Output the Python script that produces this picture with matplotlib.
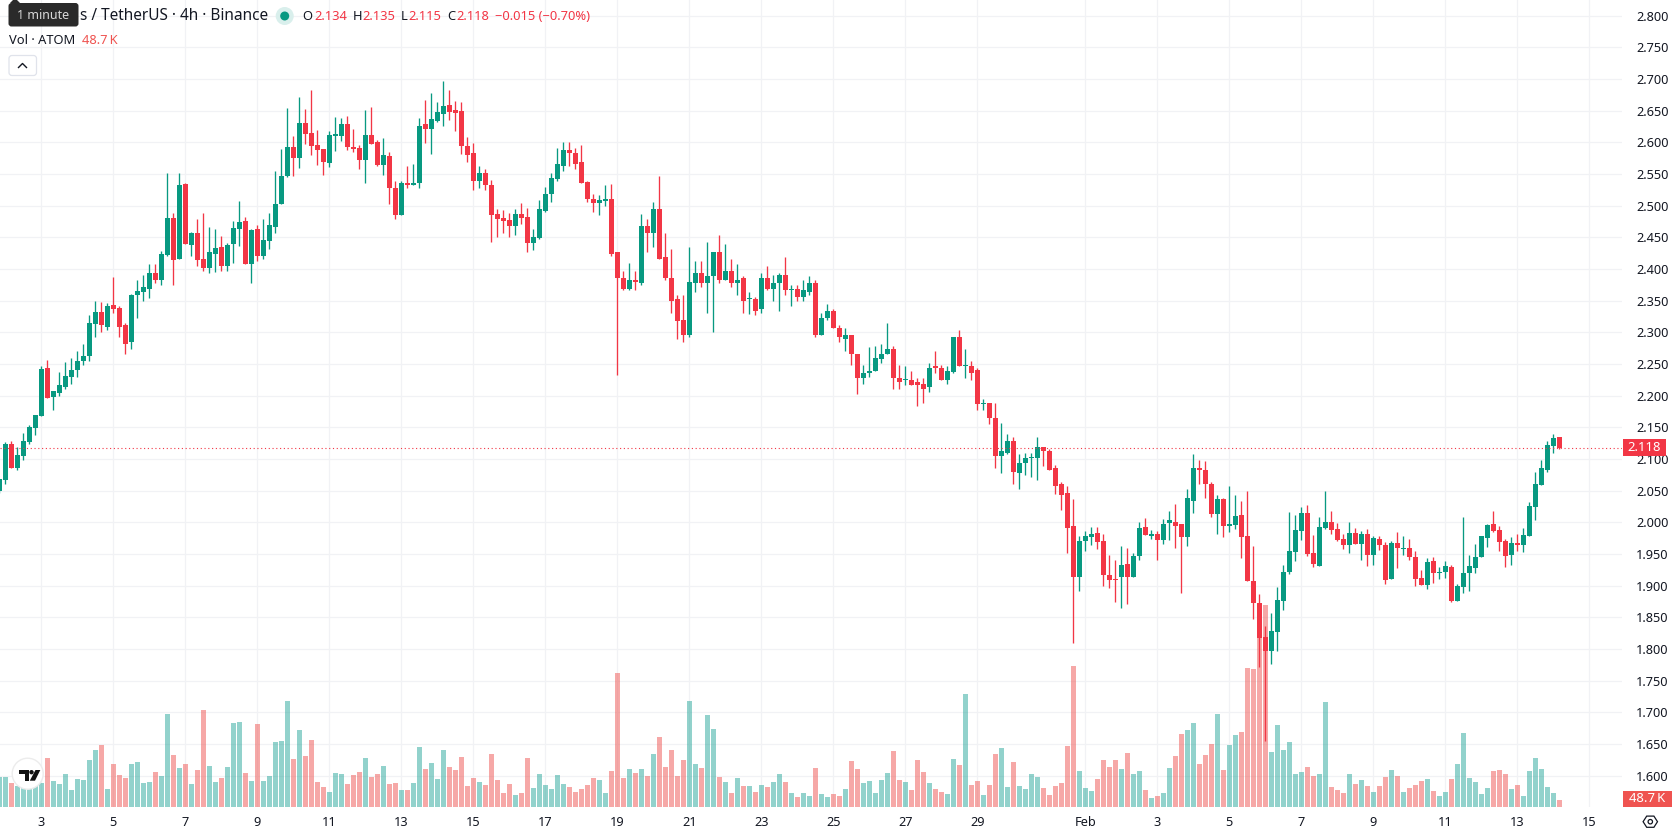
"""ATOM/USDT 4h candlestick chart with a volume pane, drawn with matplotlib."""

import matplotlib

matplotlib.use("Agg")

import matplotlib.pyplot as plt
import numpy as np
from matplotlib.patches import Circle, FancyBboxPatch, Polygon, Rectangle
from matplotlib.transforms import Affine2D, blended_transform_factory

plt.rcParams["font.family"] = ["Noto Sans", "DejaVu Sans"]

opens = [
    2.049, 2.067, 2.124, 2.086, 2.104, 2.127, 2.149, 2.167, 2.243, 2.197,
    2.204, 2.213, 2.229, 2.240, 2.254, 2.263, 2.313, 2.332, 2.309, 2.343,
    2.338, 2.311, 2.284, 2.358, 2.363, 2.369, 2.394, 2.383, 2.422, 2.480,
    2.416, 2.534, 2.438, 2.457, 2.416, 2.402, 2.424, 2.435, 2.404, 2.439,
    2.463, 2.476, 2.407, 2.463, 2.420, 2.444, 2.466, 2.502, 2.546, 2.592,
    2.575, 2.631, 2.614, 2.595, 2.589, 2.567, 2.610, 2.610, 2.629, 2.593,
    2.591, 2.572, 2.612, 2.601, 2.564, 2.578, 2.528, 2.485, 2.536, 2.532,
    2.535, 2.628, 2.621, 2.633, 2.644, 2.659, 2.651, 2.649, 2.594, 2.583,
    2.539, 2.551, 2.533, 2.486, 2.480, 2.477, 2.468, 2.486, 2.482, 2.441,
    2.449, 2.491, 2.518, 2.542, 2.562, 2.588, 2.583, 2.569, 2.537, 2.511,
    2.504, 2.507, 2.511, 2.426, 2.386, 2.369, 2.382, 2.378, 2.468, 2.456,
    2.494, 2.418, 2.386, 2.352, 2.320, 2.295, 2.377, 2.394, 2.377, 2.389,
    2.427, 2.382, 2.397, 2.378, 2.385, 2.352, 2.352, 2.336, 2.386, 2.369,
    2.378, 2.391, 2.366, 2.369, 2.356, 2.364, 2.378, 2.295, 2.323, 2.334,
    2.307, 2.290, 2.296, 2.265, 2.228, 2.236, 2.239, 2.258, 2.265, 2.274,
    2.228, 2.224, 2.225, 2.222, 2.219, 2.213, 2.246, 2.244, 2.224, 2.238,
    2.292, 2.246, 2.247, 2.240, 2.186, 2.189, 2.165, 2.104, 2.110, 2.129,
    2.078, 2.093, 2.101, 2.101, 2.119, 2.113, 2.085, 2.060, 2.046, 1.994,
    1.913, 1.971, 1.976, 1.983, 1.971, 1.917, 1.911, 1.913, 1.934, 1.913,
    1.946, 1.993, 1.978, 1.982, 1.972, 1.999, 2.001, 1.997, 1.977, 2.033,
    2.086, 2.083, 2.061, 2.013, 2.036, 1.994, 1.996, 2.012, 1.979, 1.908,
    1.873, 1.819, 1.796, 1.827, 1.876, 1.922, 1.953, 1.986, 2.015, 1.952,
    1.931, 1.991, 2.001, 1.989, 1.974, 1.964, 1.983, 1.966, 1.982, 1.948,
    1.974, 1.964, 1.911, 1.967, 1.958, 1.959, 1.945, 1.912, 1.901, 1.939,
    1.920, 1.922, 1.929, 1.876, 1.898, 1.920, 1.928, 1.945, 1.975, 1.997,
    1.988, 1.971, 1.948, 1.967, 1.964, 1.978, 2.024, 2.059, 2.083, 2.121,
    2.134,
]
highs = [
    2.069, 2.127, 2.128, 2.119, 2.141, 2.154, 2.170, 2.246, 2.256, 2.208,
    2.238, 2.253, 2.260, 2.270, 2.281, 2.327, 2.349, 2.347, 2.346, 2.387,
    2.341, 2.315, 2.361, 2.383, 2.391, 2.408, 2.408, 2.428, 2.551, 2.489,
    2.551, 2.536, 2.458, 2.479, 2.489, 2.466, 2.463, 2.452, 2.441, 2.476,
    2.507, 2.482, 2.463, 2.469, 2.479, 2.489, 2.555, 2.589, 2.654, 2.610,
    2.671, 2.652, 2.682, 2.620, 2.589, 2.618, 2.640, 2.638, 2.641, 2.621,
    2.596, 2.651, 2.655, 2.604, 2.607, 2.584, 2.538, 2.538, 2.562, 2.566,
    2.638, 2.667, 2.678, 2.663, 2.697, 2.683, 2.665, 2.663, 2.608, 2.599,
    2.562, 2.558, 2.541, 2.494, 2.493, 2.488, 2.494, 2.504, 2.496, 2.463,
    2.508, 2.530, 2.551, 2.591, 2.600, 2.600, 2.591, 2.596, 2.539, 2.519,
    2.516, 2.532, 2.534, 2.426, 2.397, 2.410, 2.397, 2.486, 2.479, 2.506,
    2.546, 2.457, 2.431, 2.359, 2.359, 2.435, 2.412, 2.412, 2.442, 2.427,
    2.454, 2.440, 2.416, 2.408, 2.389, 2.363, 2.356, 2.393, 2.405, 2.391,
    2.393, 2.419, 2.374, 2.374, 2.382, 2.388, 2.383, 2.331, 2.344, 2.337,
    2.312, 2.306, 2.296, 2.266, 2.249, 2.276, 2.279, 2.282, 2.315, 2.279,
    2.249, 2.247, 2.239, 2.228, 2.228, 2.251, 2.271, 2.249, 2.246, 2.293,
    2.304, 2.273, 2.255, 2.243, 2.195, 2.189, 2.188, 2.156, 2.139, 2.135,
    2.108, 2.110, 2.110, 2.135, 2.119, 2.116, 2.091, 2.064, 2.057, 2.036,
    1.979, 1.986, 1.993, 1.993, 1.982, 1.949, 1.941, 1.962, 1.959, 1.952,
    2.000, 2.007, 1.988, 1.986, 2.005, 2.018, 2.029, 1.997, 2.053, 2.107,
    2.099, 2.097, 2.064, 2.043, 2.039, 2.058, 2.043, 2.033, 2.049, 1.963,
    1.887, 1.837, 1.857, 1.898, 1.933, 2.016, 2.012, 2.024, 2.027, 1.980,
    2.008, 2.049, 2.018, 1.999, 1.982, 2.001, 1.991, 1.986, 1.989, 1.978,
    1.978, 1.969, 1.971, 1.985, 1.978, 1.974, 1.955, 1.925, 1.944, 1.945,
    1.929, 1.939, 1.933, 1.903, 2.008, 1.948, 1.966, 1.978, 1.997, 2.018,
    1.994, 1.974, 1.977, 1.982, 1.991, 2.032, 2.079, 2.098, 2.128, 2.139,
    2.135,
]
lows = [
    2.046, 2.060, 2.086, 2.083, 2.099, 2.124, 2.138, 2.167, 2.196, 2.177,
    2.200, 2.210, 2.219, 2.230, 2.249, 2.255, 2.293, 2.300, 2.304, 2.330,
    2.293, 2.265, 2.274, 2.323, 2.349, 2.354, 2.378, 2.374, 2.421, 2.375,
    2.416, 2.439, 2.421, 2.404, 2.397, 2.394, 2.395, 2.397, 2.396, 2.410,
    2.436, 2.407, 2.378, 2.412, 2.416, 2.431, 2.457, 2.502, 2.545, 2.546,
    2.559, 2.597, 2.580, 2.564, 2.549, 2.561, 2.586, 2.602, 2.588, 2.585,
    2.557, 2.536, 2.597, 2.563, 2.549, 2.502, 2.478, 2.485, 2.528, 2.532,
    2.528, 2.599, 2.582, 2.632, 2.626, 2.635, 2.618, 2.582, 2.569, 2.524,
    2.528, 2.525, 2.443, 2.450, 2.457, 2.451, 2.454, 2.471, 2.427, 2.430,
    2.447, 2.490, 2.505, 2.539, 2.555, 2.562, 2.557, 2.535, 2.505, 2.490,
    2.485, 2.500, 2.421, 2.232, 2.366, 2.366, 2.367, 2.375, 2.427, 2.435,
    2.415, 2.382, 2.331, 2.290, 2.285, 2.293, 2.363, 2.372, 2.331, 2.301,
    2.378, 2.382, 2.372, 2.359, 2.331, 2.329, 2.328, 2.331, 2.366, 2.350,
    2.334, 2.359, 2.341, 2.350, 2.350, 2.358, 2.293, 2.295, 2.320, 2.306,
    2.284, 2.271, 2.249, 2.202, 2.219, 2.230, 2.239, 2.251, 2.265, 2.211,
    2.211, 2.217, 2.217, 2.184, 2.189, 2.205, 2.235, 2.224, 2.219, 2.236,
    2.246, 2.227, 2.225, 2.178, 2.177, 2.155, 2.086, 2.078, 2.108, 2.061,
    2.052, 2.075, 2.072, 2.067, 2.089, 2.083, 2.044, 2.020, 1.952, 1.810,
    1.891, 1.955, 1.964, 1.958, 1.899, 1.896, 1.874, 1.865, 1.871, 1.913,
    1.941, 1.980, 1.974, 1.941, 1.966, 1.972, 1.959, 1.889, 1.963, 2.015,
    2.061, 2.039, 2.008, 1.982, 1.977, 1.985, 1.990, 1.944, 1.907, 1.848,
    1.771, 1.655, 1.777, 1.797, 1.862, 1.918, 1.939, 1.972, 1.947, 1.929,
    1.931, 1.989, 1.982, 1.971, 1.958, 1.952, 1.966, 1.941, 1.931, 1.933,
    1.956, 1.903, 1.911, 1.928, 1.948, 1.941, 1.899, 1.901, 1.895, 1.904,
    1.911, 1.912, 1.874, 1.876, 1.888, 1.892, 1.920, 1.945, 1.961, 1.985,
    1.955, 1.929, 1.933, 1.955, 1.953, 1.978, 2.004, 2.059, 2.079, 2.109,
    2.115,
]
closes = [
    2.068, 2.124, 2.086, 2.106, 2.129, 2.150, 2.169, 2.242, 2.196, 2.207,
    2.216, 2.231, 2.240, 2.255, 2.263, 2.314, 2.332, 2.311, 2.341, 2.336,
    2.309, 2.282, 2.358, 2.365, 2.371, 2.394, 2.383, 2.424, 2.480, 2.414,
    2.532, 2.439, 2.457, 2.414, 2.402, 2.426, 2.433, 2.405, 2.438, 2.465,
    2.474, 2.407, 2.461, 2.421, 2.446, 2.469, 2.502, 2.547, 2.592, 2.575,
    2.631, 2.613, 2.594, 2.587, 2.569, 2.612, 2.613, 2.629, 2.593, 2.589,
    2.572, 2.612, 2.597, 2.564, 2.580, 2.528, 2.485, 2.536, 2.532, 2.536,
    2.626, 2.621, 2.637, 2.647, 2.657, 2.648, 2.646, 2.594, 2.580, 2.539,
    2.551, 2.532, 2.485, 2.478, 2.476, 2.468, 2.486, 2.480, 2.441, 2.451,
    2.494, 2.518, 2.544, 2.566, 2.588, 2.583, 2.566, 2.535, 2.511, 2.504,
    2.508, 2.511, 2.424, 2.385, 2.369, 2.383, 2.380, 2.468, 2.456, 2.494,
    2.415, 2.385, 2.350, 2.318, 2.295, 2.380, 2.394, 2.377, 2.389, 2.427,
    2.382, 2.397, 2.377, 2.383, 2.350, 2.353, 2.334, 2.386, 2.369, 2.378,
    2.391, 2.367, 2.369, 2.356, 2.366, 2.378, 2.296, 2.323, 2.334, 2.306,
    2.292, 2.296, 2.265, 2.227, 2.236, 2.239, 2.260, 2.266, 2.273, 2.227,
    2.221, 2.225, 2.217, 2.217, 2.211, 2.244, 2.244, 2.224, 2.239, 2.292,
    2.246, 2.247, 2.236, 2.186, 2.189, 2.164, 2.104, 2.113, 2.129, 2.080,
    2.094, 2.102, 2.102, 2.119, 2.112, 2.083, 2.057, 2.043, 1.991, 1.913,
    1.971, 1.978, 1.982, 1.969, 1.916, 1.909, 1.909, 1.932, 1.913, 1.946,
    1.991, 1.980, 1.982, 1.972, 1.997, 2.004, 1.994, 1.977, 2.038, 2.086,
    2.082, 2.061, 2.013, 2.036, 1.994, 1.997, 2.010, 1.977, 1.907, 1.872,
    1.818, 1.796, 1.829, 1.878, 1.922, 1.955, 1.988, 2.015, 1.950, 1.934,
    1.993, 2.001, 1.988, 1.972, 1.964, 1.983, 1.966, 1.982, 1.948, 1.975,
    1.964, 1.909, 1.967, 1.959, 1.960, 1.945, 1.911, 1.901, 1.937, 1.920,
    1.922, 1.931, 1.876, 1.899, 1.920, 1.931, 1.945, 1.978, 1.996, 1.986,
    1.969, 1.947, 1.967, 1.964, 1.980, 2.026, 2.061, 2.086, 2.122, 2.133,
    2.118,
]
# volume per candle, thousands of ATOM
volumes = [
    209, 209, 167, 146, 153, 132, 146, 165, 341, 181,
    160, 230, 118, 195, 188, 327, 397, 432, 125, 299,
    223, 202, 299, 313, 167, 174, 244, 216, 647, 362,
    271, 299, 160, 258, 675, 285, 174, 202, 278, 585,
    592, 237, 181, 578, 181, 216, 452, 459, 738, 334,
    536, 355, 466, 174, 139, 104, 237, 230, 160, 223,
    244, 341, 209, 230, 285, 160, 167, 118, 118, 167,
    418, 264, 306, 195, 397, 278, 258, 348, 146, 202,
    174, 153, 369, 188, 97, 160, 84, 97, 341, 132,
    230, 153, 125, 223, 160, 139, 104, 125, 153, 202,
    188, 97, 251, 933, 202, 264, 237, 264, 216, 369,
    487, 278, 397, 216, 327, 738, 299, 271, 640, 543,
    209, 174, 97, 202, 146, 146, 104, 153, 139, 174,
    230, 174, 97, 70, 97, 77, 271, 90, 70, 90,
    77, 125, 320, 264, 167, 181, 97, 188, 237, 390,
    188, 174, 118, 327, 244, 167, 125, 104, 90, 334,
    292, 786, 153, 181, 84, 153, 369, 411, 139, 313,
    146, 125, 230, 209, 132, 84, 146, 167, 425, 981,
    251, 132, 111, 195, 327, 278, 327, 264, 376, 230,
    251, 118, 63, 77, 97, 271, 355, 508, 536, 585,
    299, 362, 438, 647, 258, 432, 501, 522, 967, 960,
    1302, 1406, 383, 571, 397, 452, 230, 244, 278, 216,
    230, 731, 139, 118, 97, 230, 160, 188, 146, 104,
    146, 209, 258, 216, 104, 132, 153, 181, 195, 111,
    77, 104, 195, 299, 515, 202, 174, 90, 132, 251,
    258, 230, 125, 153, 77, 251, 341, 264, 139, 97,
    48.7,
]

price_ticks = [round(1.6 + 0.05 * i, 2) for i in range(25)]
date_labels = ["3", "5", "7", "9", "11", "13", "15", "17", "19", "21", "23", "25", "27", "29",
               "Feb", "3", "5", "7", "9", "11", "13", "15"]
date_positions = [7, 19, 31, 43, 55, 67, 79, 91, 103, 115, 127, 139, 151, 163,
                  181, 193, 205, 217, 229, 241, 253, 265]
last_price = 2.118

UP = "#089981"
DOWN = "#F23645"
UP_VOL = "#26A69A"
DOWN_VOL = "#EF5350"
TEXT = "#131722"

WIDTH, HEIGHT = 1678, 835
PANE_W, PANE_H = 1622, 807
VOL_RANGE = 5617  # thousands shown across the full pane height

o = np.array(opens)
h = np.array(highs)
l = np.array(lows)
c = np.array(closes)
v = np.array(volumes)
x = np.arange(len(o))
is_up = c >= o

fig = plt.figure(figsize=(WIDTH / 100, HEIGHT / 100), dpi=100, facecolor="white")
ax = fig.add_axes([0, 1 - PANE_H / HEIGHT, PANE_W / WIDTH, PANE_H / HEIGHT])
ax.set_xlim(0.117, 270.45)
ax.set_ylim(1.5505, 2.8245)
for spine in ax.spines.values():
    spine.set_visible(False)

# volume bars share the x data scale but sit on their own y scale
vol_transform = blended_transform_factory(
    ax.transData, Affine2D().scale(1, 1 / VOL_RANGE) + ax.transAxes
)
ax.bar(x, v, width=0.84, color=np.where(is_up, UP_VOL, DOWN_VOL).tolist(), alpha=0.5,
       linewidth=0, transform=vol_transform, zorder=1)

candle_colors = np.where(is_up, UP, DOWN).tolist()
ax.vlines(x, l, h, colors=candle_colors, linewidth=0.95, zorder=3)
ax.bar(x, np.maximum(np.abs(c - o), 0.0016), bottom=np.minimum(o, c), width=0.84,
       color=candle_colors, linewidth=0, zorder=3)

ax.axhline(last_price, color=DOWN, linewidth=0.8, linestyle=(0, (1, 2.4)), zorder=4)

ax.set_axisbelow(True)
ax.grid(True, color="#f1f2f5", linewidth=0.9, zorder=0)
ax.yaxis.tick_right()
ax.set_yticks(price_ticks, [f"{p:.3f}" for p in price_ticks])
ax.set_xticks(date_positions, date_labels)
ax.tick_params(axis="both", length=0, labelsize=9.2, labelcolor=TEXT)
ax.tick_params(axis="y", pad=10)
ax.tick_params(axis="x", pad=6.5)
for label in ax.get_xticklabels():
    if label.get_text() == "Feb":
        label.set_fontweight("bold")

# header, price tags and icons use an overlay in pixel coordinates
top = fig.add_axes([0, 0, 1, 1], facecolor="none")
top.set_xlim(0, WIDTH)
top.set_ylim(HEIGHT, 0)
top.axis("off")

top.text(79.5, 16, "s / TetherUS · 4h · Binance", fontsize=11.05, color=TEXT, va="center")
top.add_patch(Circle((284.7, 16), 9, color="#d9efec", linewidth=0))
top.add_patch(Circle((284.7, 16), 4.5, color=UP, linewidth=0))

legend_items = [
    (302, "O", TEXT), (314, "2.134", DOWN), (352.5, "H", TEXT), (362.4, "2.135", DOWN),
    (401, "L", TEXT), (408.7, "2.115", DOWN), (447, "C", TEXT), (456, "2.118", DOWN),
    (495, "\u22120.015 (\u22120.70%)", DOWN),
]
for px, text, color in legend_items:
    top.text(px, 16, text, fontsize=9.3, color=color, va="center")

top.text(9, 40.7, "Vol · ATOM", fontsize=9.3, color=TEXT, va="center")
top.text(81.5, 40.7, "48.7\u2009K", fontsize=9.3, color=DOWN_VOL, va="center")

top.add_patch(FancyBboxPatch((9, 55.5), 27.5, 20, boxstyle="round,pad=0,rounding_size=3",
                             facecolor="white", edgecolor="#e0e3eb", linewidth=0.9))
top.plot([18.5, 22.5, 26.5], [67.5, 63.5, 67.5], color=TEXT, linewidth=1.0)

# tooltip over the start of the title
top.add_patch(FancyBboxPatch((8.5, 3), 70, 23.5, boxstyle="round,pad=0,rounding_size=3",
                             facecolor="#2a2a2a", edgecolor="none", zorder=5))
top.add_patch(Polygon([(10, 3), (15, -2), (20, 3)], facecolor="#2a2a2a", edgecolor="none", zorder=5))
top.text(43.5, 15.5, "1 minute", fontsize=9, color="#d8d8d8", ha="center", va="center", zorder=6)

top.add_patch(Rectangle((1623, 439), 43, 17, facecolor=DOWN, edgecolor="none"))
top.text(1644.5, 447.5, "2.118", fontsize=9.4, color="white", ha="center", va="center")
top.add_patch(Rectangle((1623, 790.5), 48.5, 16.5, facecolor=DOWN_VOL, edgecolor="none"))
top.text(1647.3, 799, "48.7\u2009K", fontsize=9.4, color="white", ha="center", va="center")

# logo badge in the lower left corner
top.add_patch(Circle((27.7, 773.7), 15.5, facecolor="white", edgecolor="#ececec", linewidth=1.0, zorder=5))
top.add_patch(Polygon([(19, 770), (29, 770), (29, 780.7), (24.5, 780.7), (24.5, 774.2), (19, 774.2)],
                      facecolor="#111111", edgecolor="none", zorder=6))
top.add_patch(Circle((31.5, 772.2), 2.2, facecolor="#111111", edgecolor="none", zorder=6))
top.add_patch(Polygon([(35.5, 770), (40.3, 770), (35, 780.7), (29.8, 780.7)],
                      facecolor="#111111", edgecolor="none", zorder=6))

# settings icon under the price scale
hex_x = 1650.3 + np.array([-7.2, -3.6, 3.6, 7.2, 3.6, -3.6])
hex_y = 821.7 + np.array([0, -5.6, -5.6, 0, 5.6, 5.6])
top.add_patch(Polygon(np.column_stack([hex_x, hex_y]), closed=True, fill=False,
                      edgecolor=TEXT, linewidth=0.9))
top.add_patch(Circle((1650.3, 821.7), 2.2, fill=False, edgecolor=TEXT, linewidth=0.9))

fig.savefig("out.png", dpi=100, facecolor="white")
